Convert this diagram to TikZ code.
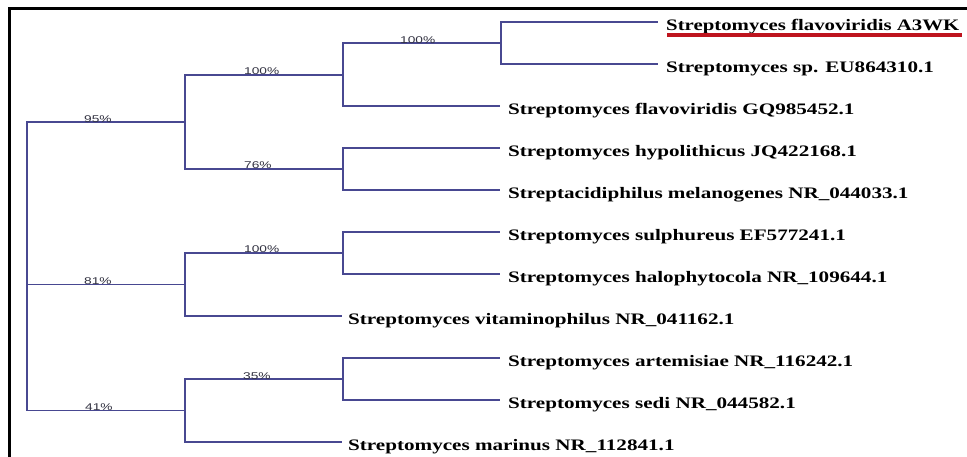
\documentclass[tikz,border=0pt]{standalone}
\usepackage{fontspec}
\setmainfont{Liberation Serif}
\newfontfamily\labsans{Liberation Sans}
\usetikzlibrary{calc}
\definecolor{branchc}{RGB}{72,72,145}
\definecolor{bootc}{RGB}{50,50,65}
\definecolor{redline}{RGB}{190,20,30}
\begin{document}
\begin{tikzpicture}[x=1pt,y=-1pt,
  branch/.style={draw=branchc, line width=1.2pt},
  leaf/.style={inner sep=0pt, anchor=base west, text=black, font=\fontsize{16}{18}\selectfont\bfseries},
  boot/.style={inner sep=0pt, anchor=base west, text=bootc, font=\labsans\fontsize{9.8}{11}\selectfont},
  frameline/.style={draw=black, line width=3pt}]
\useasboundingbox (0,0) rectangle (967,457);
\fill[white] (0,0) rectangle (967,457);
\draw[frameline] (9,470) -- (9,9) -- (975,9);
% internal nodes
\coordinate (R) at (27,266);
\coordinate (D) at (185,122);
\coordinate (F) at (185,284.5);
\coordinate (H) at (185,410.5);
\coordinate (B) at (343,75);
\coordinate (C) at (343,169);
\coordinate (E) at (343,253);
\coordinate (G) at (343,379);
\coordinate (A) at (501,43);
% leaf ends
\coordinate (e1) at (658,22);
\coordinate (e2) at (658,64);
\coordinate (e3) at (500,106);
\coordinate (e4) at (500,148);
\coordinate (e5) at (500,190);
\coordinate (e6) at (500,232);
\coordinate (e7) at (500,274);
\coordinate (e8) at (342,316);
\coordinate (e9) at (500,358);
\coordinate (e10) at (500,400);
\coordinate (e11) at (342,442);
% branches
\draw[branch] (R) |- (D);
\draw[branch] (R) |- (F);
\draw[branch] (R) |- (H);
\draw[branch] (D) |- (B);
\draw[branch] (D) |- (C);
\draw[branch] (B) |- (A);
\draw[branch] (B) |- (e3);
\draw[branch] (A) |- (e1);
\draw[branch] (A) |- (e2);
\draw[branch] (C) |- (e4);
\draw[branch] (C) |- (e5);
\draw[branch] (F) |- (E);
\draw[branch] (F) |- (e8);
\draw[branch] (E) |- (e6);
\draw[branch] (E) |- (e7);
\draw[branch] (H) |- (G);
\draw[branch] (H) |- (e11);
\draw[branch] (G) |- (e9);
\draw[branch] (G) |- (e10);
% bootstrap labels
\node[boot] (b95) at (84,122.5) {\scalebox{1.4}[1]{95\%}};
\node[boot] (b81) at (84,284.5) {\scalebox{1.4}[1]{81\%}};
\node[boot] (b41) at (85,410.5) {\scalebox{1.4}[1]{41\%}};
\node[boot] (b100a) at (244,75) {\scalebox{1.4}[1]{100\%}};
\node[boot] (b76) at (244,169) {\scalebox{1.4}[1]{76\%}};
\node[boot] (b100b) at (244,253) {\scalebox{1.4}[1]{100\%}};
\node[boot] (b35) at (243,379) {\scalebox{1.4}[1]{35\%}};
\node[boot] (b100c) at (400,43.5) {\scalebox{1.4}[1]{100\%}};
% leaf labels
\node[leaf] (t1) at ([xshift=8pt,yshift=-8.5pt]e1) {\scalebox{1.3}[1]{Streptomyces flavoviridis A3WK}};
\node[leaf] (t2) at ([xshift=8pt,yshift=-8.5pt]e2) {\scalebox{1.32}[1]{Streptomyces sp. EU864310.1}};
\node[leaf] (t3) at ([xshift=8pt,yshift=-8.5pt]e3) {\scalebox{1.32}[1]{Streptomyces flavoviridis GQ985452.1}};
\node[leaf] (t4) at ([xshift=8pt,yshift=-8.5pt]e4) {\scalebox{1.32}[1]{Streptomyces hypolithicus JQ422168.1}};
\node[leaf] (t5) at ([xshift=8pt,yshift=-8.5pt]e5) {\scalebox{1.32}[1]{Streptacidiphilus melanogenes NR\_044033.1}};
\node[leaf] (t6) at ([xshift=8pt,yshift=-8.5pt]e6) {\scalebox{1.32}[1]{Streptomyces sulphureus EF577241.1}};
\node[leaf] (t7) at ([xshift=8pt,yshift=-8.5pt]e7) {\scalebox{1.32}[1]{Streptomyces halophytocola NR\_109644.1}};
\node[leaf] (t8) at ([xshift=6pt,yshift=-8.5pt]e8) {\scalebox{1.32}[1]{Streptomyces vitaminophilus NR\_041162.1}};
\node[leaf] (t9) at ([xshift=8pt,yshift=-8.5pt]e9) {\scalebox{1.32}[1]{Streptomyces artemisiae NR\_116242.1}};
\node[leaf] (t10) at ([xshift=8pt,yshift=-8.5pt]e10) {\scalebox{1.32}[1]{Streptomyces sedi NR\_044582.1}};
\node[leaf] (t11) at ([xshift=6pt,yshift=-8.5pt]e11) {\scalebox{1.32}[1]{Streptomyces marinus NR\_112841.1}};
% red underline
\draw[draw=redline, line width=3.5pt] ([xshift=1pt,yshift=-4.5pt]t1.base west) -- ([xshift=2pt,yshift=-4.5pt]t1.base east);
\end{tikzpicture}
\end{document}
